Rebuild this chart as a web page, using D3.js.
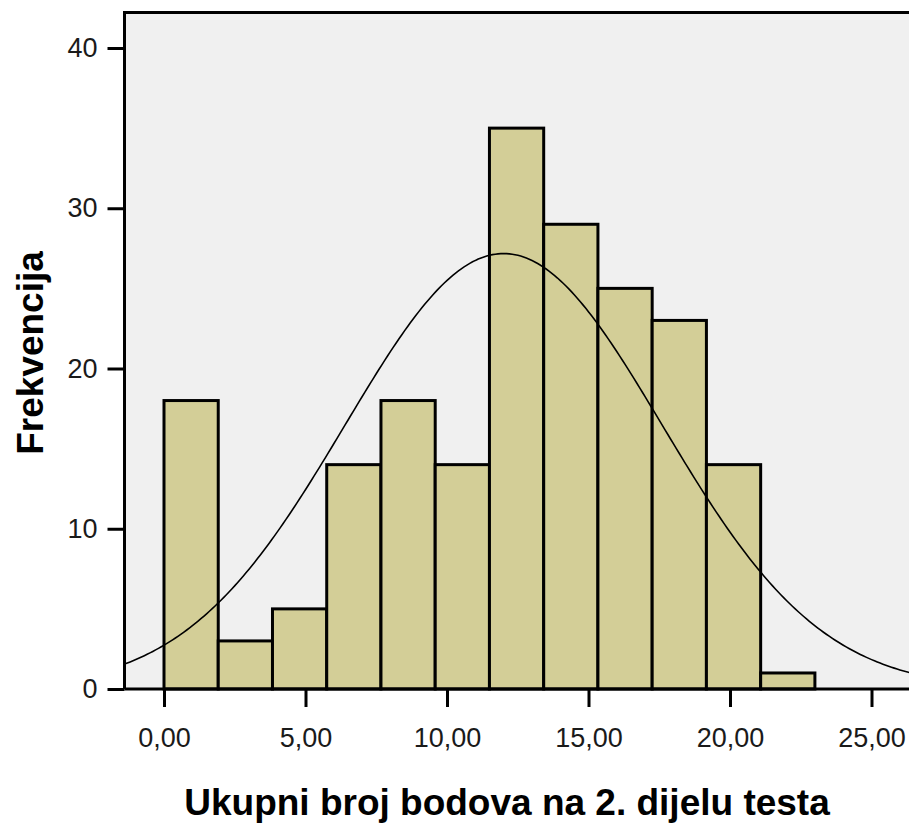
<!DOCTYPE html>
<html>
<head>
<meta charset="utf-8">
<title>Histogram</title>
<script src="https://d3js.org/d3.v7.min.js"></script>
<style>
body { margin: 0; background: #fff; }
svg { display: block; font-family: "Liberation Sans", Arial, sans-serif; }
.tick text { fill: #1a1a1a; }
</style>
</head>
<body>
<svg width="909" height="825"></svg>
<script>
// bins: 12 equal bins from 0 to 23
var binStart = 0, binEnd = 23;
var counts = [18, 3, 5, 14, 18, 14, 35, 29, 25, 23, 14, 1];
var xTicks = [0, 5, 10, 15, 20, 25];
var yTicks = [0, 10, 20, 30, 40];
// normal curve overlay
var curveMean = 12.0, curveSd = 5.6;

var svg = d3.select("svg"),
    width = +svg.attr("width");

var x = d3.scaleLinear().domain([0, 25]).range([164, 871.5]);
var y = d3.scaleLinear().domain([0, 40]).range([689, 48]);

// plot frame edges
var pLeft = 124.5, pTop = 12.5, pRight = width, pBottom = 689;

var binW = (binEnd - binStart) / counts.length;
var n = d3.sum(counts);

svg.append("clipPath").attr("id", "clip")
  .append("rect")
    .attr("x", pLeft).attr("y", pTop)
    .attr("width", pRight - pLeft).attr("height", pBottom - pTop);

// plot background
svg.append("rect")
    .attr("x", pLeft).attr("y", pTop)
    .attr("width", pRight - pLeft).attr("height", pBottom - pTop)
    .attr("fill", "#f0f0f0");

// bars
svg.append("g").selectAll("rect")
  .data(counts)
  .enter().append("rect")
    .attr("x", function(d, i) { return x(binStart + i * binW); })
    .attr("y", function(d) { return y(d); })
    .attr("width", function(d, i) { return x(binStart + (i + 1) * binW) - x(binStart + i * binW); })
    .attr("height", function(d) { return y(0) - y(d); })
    .attr("fill", "#d3ce97")
    .attr("stroke", "#000")
    .attr("stroke-width", 3);

// normal curve
var pts = d3.range(x.invert(pLeft), x.invert(pRight) + 0.1, 0.1);
var dens = function(v) {
  var z = (v - curveMean) / curveSd;
  return n * binW * Math.exp(-0.5 * z * z) / (curveSd * Math.sqrt(2 * Math.PI));
};
svg.append("path")
    .datum(pts)
    .attr("clip-path", "url(#clip)")
    .attr("fill", "none")
    .attr("stroke", "#000")
    .attr("stroke-width", 1.6)
    .attr("d", d3.line().x(function(d) { return x(d); }).y(function(d) { return y(dens(d)); }));

// frame
svg.append("path")
    .attr("d", "M" + pLeft + "," + pBottom + "V" + pTop + "H" + pRight)
    .attr("fill", "none").attr("stroke", "#000").attr("stroke-width", 3);

// axes
var xAxis = svg.append("g")
    .attr("transform", "translate(0," + pBottom + ")")
    .call(d3.axisBottom(x).tickValues(xTicks).tickSize(18).tickPadding(21)
      .tickFormat(function(d) { return d3.format(".2f")(d).replace(".", ","); }));
xAxis.select(".domain").attr("d", "M" + pLeft + ",0H" + pRight).attr("stroke-width", 3);
xAxis.selectAll(".tick line").attr("stroke-width", 3);
xAxis.selectAll(".tick text").attr("font-size", 27).attr("dy", "0.72em");

var yAxis = svg.append("g")
    .attr("transform", "translate(" + pLeft + ",0)")
    .call(d3.axisLeft(y).tickValues(yTicks).tickSize(17).tickPadding(10));
yAxis.select(".domain").remove();
yAxis.selectAll(".tick line").attr("stroke-width", 3);
yAxis.selectAll(".tick text").attr("font-size", 27);

// axis titles
svg.append("text")
    .attr("x", 507).attr("y", 815)
    .attr("text-anchor", "middle")
    .attr("font-size", 37).attr("font-weight", "bold")
    .text("Ukupni broj bodova na 2. dijelu testa");

svg.append("text")
    .attr("transform", "translate(43,353) rotate(-90)")
    .attr("text-anchor", "middle")
    .attr("font-size", 37).attr("font-weight", "bold")
    .text("Frekvencija");
</script>
</body>
</html>
